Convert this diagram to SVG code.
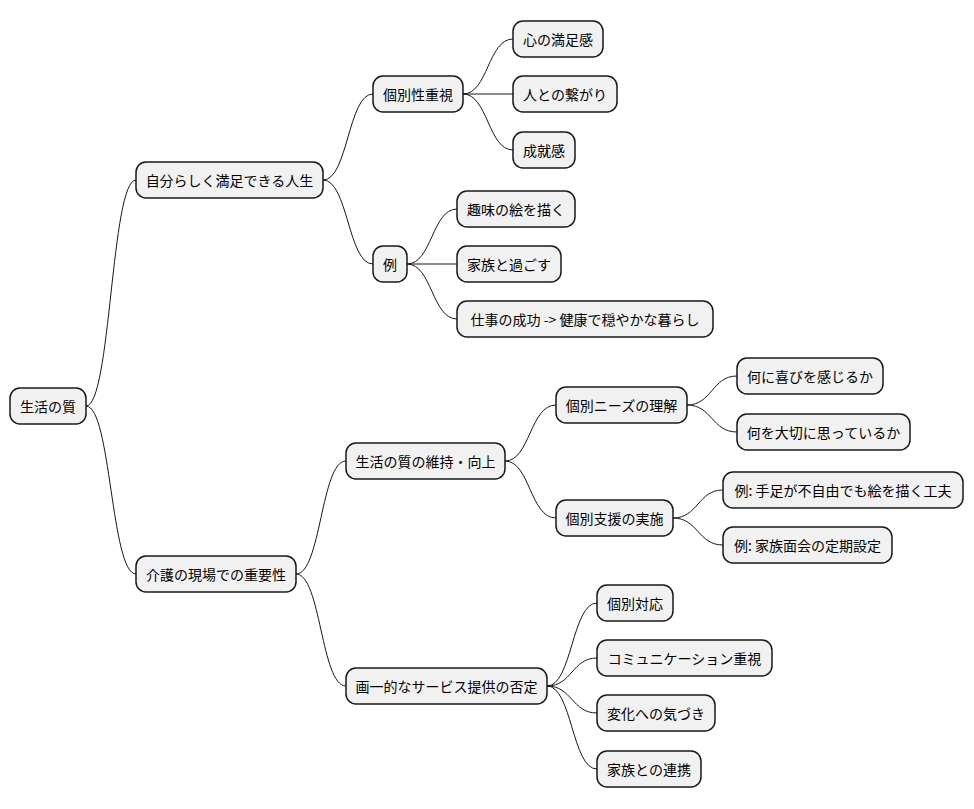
<svg xmlns="http://www.w3.org/2000/svg" width="974" height="809" viewBox="0 0 974 809">
<style>
rect{fill:#F1F1F1;stroke:#181818;stroke-width:1.5}
text{font-family:"Noto Sans CJK JP","Liberation Sans",sans-serif;font-size:14px;fill:#000;text-anchor:middle;dominant-baseline:central}
#c path{fill:none;stroke:#181818;stroke-width:1}
</style>
<rect width="974" height="809" style="fill:#fff;stroke:none"/>
<g id="c">
<path d="M86 406 C111 406 111 180 136 180"/>
<path d="M86 406 C111 406 111 574 136 574"/>
<path d="M323 180 C348 180 348 94 373 94"/>
<path d="M323 180 C348 180 348 264 373 264"/>
<path d="M463 94 C488 94 488 39 513 39"/>
<path d="M463 94 L513 94"/>
<path d="M463 94 C488 94 488 150 513 150"/>
<path d="M407 264 C432 264 432 209 457 209"/>
<path d="M407 264 L457 264"/>
<path d="M407 264 C432 264 432 319 457 319"/>
<path d="M296 574 C321 574 321 461 346 461"/>
<path d="M296 574 C321 574 321 686 346 686"/>
<path d="M505 461 C530 461 530 405 556 405"/>
<path d="M505 461 C530 461 530 518 556 518"/>
<path d="M687 405 C712 405 712 376 737 376"/>
<path d="M687 405 C712 405 712 432 737 432"/>
<path d="M673 518 C698 518 698 490 723 490"/>
<path d="M673 518 C698 518 698 545 723 545"/>
<path d="M547 686 C572 686 572 603 597 603"/>
<path d="M547 686 C572 686 572 658 597 658"/>
<path d="M547 686 C572 686 572 713 597 713"/>
<path d="M547 686 C572 686 572 769 597 769"/>
</g>
<g id="n1"><rect x="10" y="388" width="76" height="36" rx="10"/><text x="48" y="406">生活の質</text></g>
<g id="n2"><rect x="136" y="162" width="187" height="36" rx="10"/><text x="229.5" y="180">自分らしく満足できる人生</text></g>
<g id="n3"><rect x="136" y="556" width="160" height="36" rx="10"/><text x="216" y="574">介護の現場での重要性</text></g>
<g id="n4"><rect x="373" y="76" width="90" height="36" rx="10"/><text x="418" y="94">個別性重視</text></g>
<g id="n5"><rect x="373" y="246" width="34" height="36" rx="10"/><text x="390" y="264">例</text></g>
<g id="n6"><rect x="513" y="21" width="90" height="36" rx="10"/><text x="558" y="39">心の満足感</text></g>
<g id="n7"><rect x="513" y="76" width="104" height="36" rx="10"/><text x="565" y="94">人との繋がり</text></g>
<g id="n8"><rect x="513" y="132" width="62" height="36" rx="10"/><text x="544" y="150">成就感</text></g>
<g id="n9"><rect x="457" y="191" width="118" height="36" rx="10"/><text x="516" y="209">趣味の絵を描く</text></g>
<g id="n10"><rect x="457" y="246" width="104" height="36" rx="10"/><text x="509" y="264">家族と過ごす</text></g>
<g id="n11"><rect x="457" y="301" width="256" height="36" rx="10"/><text x="585" y="319">仕事の成功 -&gt; 健康で穏やかな暮らし</text></g>
<g id="n12"><rect x="346" y="443" width="159" height="36" rx="10"/><text x="425.5" y="461">生活の質の維持・向上</text></g>
<g id="n13"><rect x="346" y="668" width="201" height="36" rx="10"/><text x="446.5" y="686">画一的なサービス提供の否定</text></g>
<g id="n14"><rect x="556" y="387" width="131" height="36" rx="10"/><text x="621.5" y="405">個別ニーズの理解</text></g>
<g id="n15"><rect x="556" y="500" width="117" height="36" rx="10"/><text x="614.5" y="518">個別支援の実施</text></g>
<g id="n16"><rect x="737" y="358" width="146" height="36" rx="10"/><text x="810" y="376">何に喜びを感じるか</text></g>
<g id="n17"><rect x="737" y="414" width="173" height="36" rx="10"/><text x="823.5" y="432">何を大切に思っているか</text></g>
<g id="n18"><rect x="723" y="472" width="240" height="36" rx="10"/><text x="843" y="490">例: 手足が不自由でも絵を描く工夫</text></g>
<g id="n19"><rect x="723" y="527" width="169" height="36" rx="10"/><text x="807.5" y="545">例: 家族面会の定期設定</text></g>
<g id="n20"><rect x="597" y="585" width="76" height="36" rx="10"/><text x="635" y="603">個別対応</text></g>
<g id="n21"><rect x="597" y="640" width="175" height="36" rx="10"/><text x="684.5" y="658">コミュニケーション重視</text></g>
<g id="n22"><rect x="597" y="695" width="118" height="36" rx="10"/><text x="656" y="713">変化への気づき</text></g>
<g id="n23"><rect x="597" y="751" width="104" height="36" rx="10"/><text x="649" y="769">家族との連携</text></g>
</svg>
